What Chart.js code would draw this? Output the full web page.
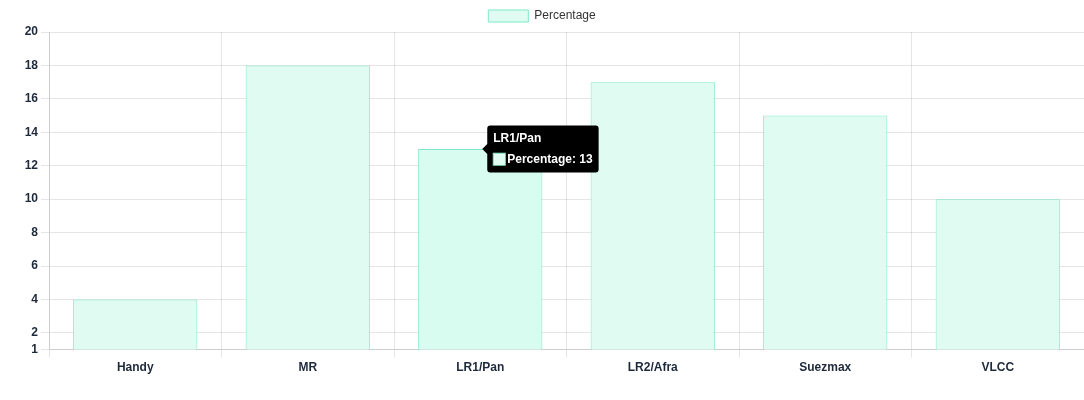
<!DOCTYPE html>
<html>
<head>
<meta charset="utf-8">
<script src="https://cdn.jsdelivr.net/npm/chart.js@4/dist/chart.umd.min.js"></script>
<style>
html,body{margin:0;padding:0;background:#fff;}
#wrap{width:1084px;height:400px;position:relative;}
</style>
</head>
<body>
<div id="wrap"><canvas id="c"></canvas></div>
<script>
const categories = ["Handy", "MR", "LR1/Pan", "LR2/Afra", "Suezmax", "VLCC"];
const percentageValues = [4, 18, 13, 17, 15, 10];
const seriesLabel = "Percentage";
const yMin = 1, yMax = 20;

const textColor = "#1e293b";
const fontFamily = "'Liberation Sans', Arial, Helvetica, sans-serif";

const chart = new Chart(document.getElementById('c'), {
  type: 'bar',
  data: {
    labels: categories,
    datasets: [{
      label: seriesLabel,
      data: percentageValues,
      backgroundColor: '#e0fcf2',
      hoverBackgroundColor: '#d8fcf0',
      borderColor: '#7ee9c6',
      hoverBorderColor: '#7ee9c6',
      borderWidth: 1
    }]
  },
  options: {
    responsive: true,
    maintainAspectRatio: false,
    animation: false,
    layout: { padding: { left: 0, right: 0, top: 0, bottom: 22 } },
    plugins: {
      legend: {
        labels: { color: '#333', font: { family: fontFamily, size: 12 }, boxWidth: 40, boxHeight: 12 }
      },
      tooltip: {
        backgroundColor: '#000',
        titleFont: { family: fontFamily, size: 12, weight: 'bold' },
        bodyFont: { family: fontFamily, size: 12, weight: 'bold' },
        titleColor: '#fff',
        bodyColor: '#fff',
        cornerRadius: 3,
        padding: 6,
        caretSize: 5,
        boxPadding: 0
      }
    },
    scales: {
      x: {
        grid: { color: 'rgba(0,0,0,0.1)' },
        ticks: { color: textColor, font: { family: fontFamily, size: 12, weight: 'bold' } }
      },
      y: {
        min: yMin,
        max: yMax,
        afterFit: (scale) => { scale.width = 49; },
        grid: { color: 'rgba(0,0,0,0.1)' },
        ticks: { stepSize: 2, color: textColor, font: { family: fontFamily, size: 12, weight: 'bold' } }
      }
    }
  }
});

const active = [{ datasetIndex: 0, index: 2 }];
chart.setActiveElements(active);
const meta = chart.getDatasetMeta(0);
const el = meta.data[2];
chart.tooltip.setActiveElements(active, { x: el.x, y: el.y });
chart.update();
</script>
</body>
</html>
